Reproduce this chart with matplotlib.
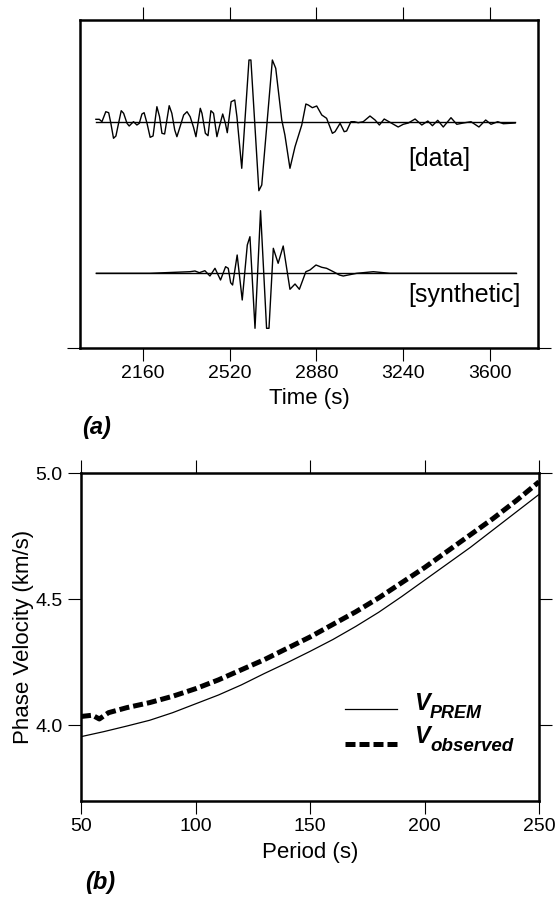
import matplotlib
matplotlib.use('Agg')
import matplotlib.pyplot as plt
import numpy as np

plt.rcParams['font.family'] = ['Liberation Sans', 'DejaVu Sans']

# ---- (a) seismograms: time (s) and relative amplitude ------------------------
DATA_T = [1965, 1979, 1990, 2006, 2018, 2027, 2038, 2048, 2059, 2070, 2080,
          2094, 2103, 2114, 2121, 2135, 2145, 2156, 2165, 2177, 2190, 2202,
          2218, 2229, 2239, 2250, 2269, 2280, 2292, 2301, 2315, 2329, 2343,
          2356, 2370, 2380, 2398, 2405, 2419, 2430, 2442, 2453, 2467, 2477,
          2491, 2502, 2510, 2526, 2541, 2550, 2570, 2600, 2608, 2641, 2653,
          2697, 2711, 2736, 2749, 2770, 2791, 2819, 2836, 2846, 2863, 2881,
          2902, 2922, 2946, 2957, 2978, 2995, 3005, 3023, 3037, 3053, 3074,
          3102, 3123, 3141, 3161, 3185, 3219, 3240, 3261, 3289, 3317, 3342,
          3361, 3383, 3406, 3438, 3462, 3489, 3521, 3554, 3582, 3604, 3632,
          3655, 3704]
DATA_A = [3.0, 3.0, 0.6, 10.6, 9.6, -1.0, -16.0, -13.7, -1.0, 11.6, 9.0,
          -1.0, -3.7, -1.0, 0.6, -2.7, -1.0, 8.3, 9.6, -1.0, -15.0, -13.7,
          15.6, 5.6, -11.0, -11.7, 16.6, 9.0, -7.7, -14.4, -3.7, 7.3, 10.6,
          5.6, -5.0, -14.4, 14.0, 9.0, -11.0, -13.4, 11.6, 9.0, -14.4, -4.4,
          8.3, -1.0, -10.4, 20.6, 22.3, 5.6, -46.0, 62.3, 62.3, -68.4, -62.7,
          62.3, 54.0, 2.3, -12.7, -46.0, -24.4, -2.7, 18.3, 17.3, 14.6, 16.3,
          7.3, 4.0, -11.0, -9.4, -1.0, -9.4, -8.7, 0.6, 0.6, -0.4, 0.6,
          6.3, 2.3, -2.7, 3.3, 0.0, -4.7, -2.0, -0.7, 3.3, -2.7, 1.3,
          -3.4, 2.0, -4.7, 4.6, -2.0, -0.7, 0.6, -4.7, 2.3, -2.0, 0.6,
          -1.4, -0.7]

SYN_T = [1967, 2189, 2355, 2376, 2394, 2417, 2438, 2459, 2482, 2503, 2514,
         2524, 2532, 2551, 2572, 2593, 2604, 2625, 2648, 2673, 2683, 2701,
         2721, 2742, 2770, 2791, 2809, 2836, 2853, 2878, 2902, 2922, 2950,
         2975, 2991, 3047, 3116, 3185, 3708]
SYN_A = [0.0, 0.0, 1.6, 2.3, 0.6, 2.6, -2.7, 5.0, -6.7, 6.6, 5.0,
         -9.4, -11.7, 18.3, -26.7, 28.3, 36.6, -55.0, 62.6, -55.0, -55.0, 25.0,
         10.0, 27.3, -16.0, -10.7, -16.0, 1.6, 3.3, 8.3, 6.0, 5.0, 1.6,
         -1.7, -2.7, 0.0, 1.6, 0.0, 0.0]

TIME_TICKS = [2160, 2520, 2880, 3240, 3600]

# ---- (b) phase velocity vs period ---------------------------------------------
PREM_P = [50, 60, 70, 80, 90, 100, 110, 120, 130, 140, 150, 160, 170, 180,
          190, 200, 210, 220, 230, 240, 250]
PREM_V = [3.955, 3.975, 3.997, 4.02, 4.05, 4.085, 4.12, 4.16, 4.205, 4.248,
          4.293, 4.34, 4.392, 4.448, 4.51, 4.575, 4.64, 4.705, 4.775, 4.845, 4.915]
OBS_P = [50, 55, 58, 62, 70, 80, 90, 100, 110, 120, 130, 140, 150, 160, 170,
         180, 190, 200, 210, 220, 230, 240, 250]
OBS_V = [4.035, 4.04, 4.025, 4.05, 4.07, 4.09, 4.115, 4.145, 4.18, 4.22, 4.26,
         4.305, 4.35, 4.40, 4.45, 4.505, 4.565, 4.625, 4.69, 4.755, 4.82, 4.89,
         4.965]

PERIOD_TICKS = [50, 100, 150, 200, 250]
VEL_TICKS = [4.0, 4.5, 5.0]

fig = plt.figure(figsize=(5.58, 9.01), dpi=100)
ax1 = fig.add_axes([80 / 558, 1 - 348 / 901, 458 / 558, 328 / 901])
ax2 = fig.add_axes([81 / 558, 1 - 801 / 901, 458 / 558, 328 / 901])

SPINE_LW = 1.8
TICK_KW = dict(direction='out', length=9.5, width=0.8, labelsize=14)
TRACE_KW = dict(color='black', lw=1.0, solid_joinstyle='round')

# ---- panel (a) ----
DATA_BASE, SYN_BASE = 225.7, 74.7
ax1.plot(DATA_T, np.array(DATA_A) + DATA_BASE, **TRACE_KW)
ax1.plot([DATA_T[0], DATA_T[-1]], [DATA_BASE, DATA_BASE], **TRACE_KW)
ax1.plot(SYN_T, np.array(SYN_A) + SYN_BASE, **TRACE_KW)
ax1.plot([SYN_T[0], SYN_T[-1]], [SYN_BASE, SYN_BASE], **TRACE_KW)
ax1.set_xlim(1899, 3799)
ax1.set_ylim(0, 328)
ax1.set_xticks(TIME_TICKS)
ax1.set_yticks([0])
ax1.tick_params(axis='x', top=True, bottom=True, labeltop=False, pad=3, **TICK_KW)
ax1.tick_params(axis='y', left=True, right=True, labelleft=False, **TICK_KW)
ax1.set_xlabel('Time (s)', fontsize=16, labelpad=4)
ax1.text(0.716, 0.576, '[data]', transform=ax1.transAxes, fontsize=18,
         ha='left', va='center')
ax1.text(0.716, 0.162, '[synthetic]', transform=ax1.transAxes, fontsize=18,
         ha='left', va='center')
for s in ax1.spines.values():
    s.set_linewidth(SPINE_LW)

# ---- panel (b) ----
l_prem, = ax2.plot(PREM_P, PREM_V, color='black', lw=0.9)
l_obs, = ax2.plot(OBS_P, OBS_V, color='black', lw=3.6, dashes=(2.0, 0.8))
ax2.set_xlim(50, 250)
ax2.set_ylim(3.7, 5.0)
ax2.set_xticks(PERIOD_TICKS)
ax2.set_yticks(VEL_TICKS)
ax2.set_yticklabels([f'{v:.1f}' for v in VEL_TICKS])
ax2.tick_params(axis='x', top=True, bottom=True, labeltop=False, pad=3, **TICK_KW)
ax2.tick_params(axis='y', left=True, right=True, labelright=False, pad=4, **TICK_KW)
ax2.set_xlabel('Period (s)', fontsize=16, labelpad=4.5)
ax2.set_ylabel('Phase Velocity (km/s)', fontsize=16)
ax2.yaxis.set_label_coords(-0.103, 0.5)
for s in ax2.spines.values():
    s.set_linewidth(SPINE_LW)

leg = ax2.legend([l_prem, l_obs], ['', ''], loc='center left',
                 bbox_to_anchor=(0.576, 0.221), frameon=False,
                 fontsize=14, handlelength=2.67, handletextpad=0,
                 labelspacing=0.85, borderpad=0, borderaxespad=0)
lab_kw = dict(transform=ax2.transAxes, fontweight='bold', fontstyle='italic',
              ha='left', va='baseline')
ax2.text(0.727, 0.277, 'V', fontsize=17, **lab_kw)
ax2.text(0.762, 0.252, 'PREM', fontsize=13, **lab_kw)
ax2.text(0.727, 0.176, 'V', fontsize=17, **lab_kw)
ax2.text(0.762, 0.151, 'observed', fontsize=13.5, **lab_kw)

fig.text(82 / 558, 1 - 428 / 901, '(a)', fontsize=17, fontweight='bold',
         fontstyle='italic', ha='left', va='center')
fig.text(85 / 558, 1 - 882 / 901, '(b)', fontsize=17, fontweight='bold',
         fontstyle='italic', ha='left', va='center')

fig.savefig('out.png', dpi=100)
